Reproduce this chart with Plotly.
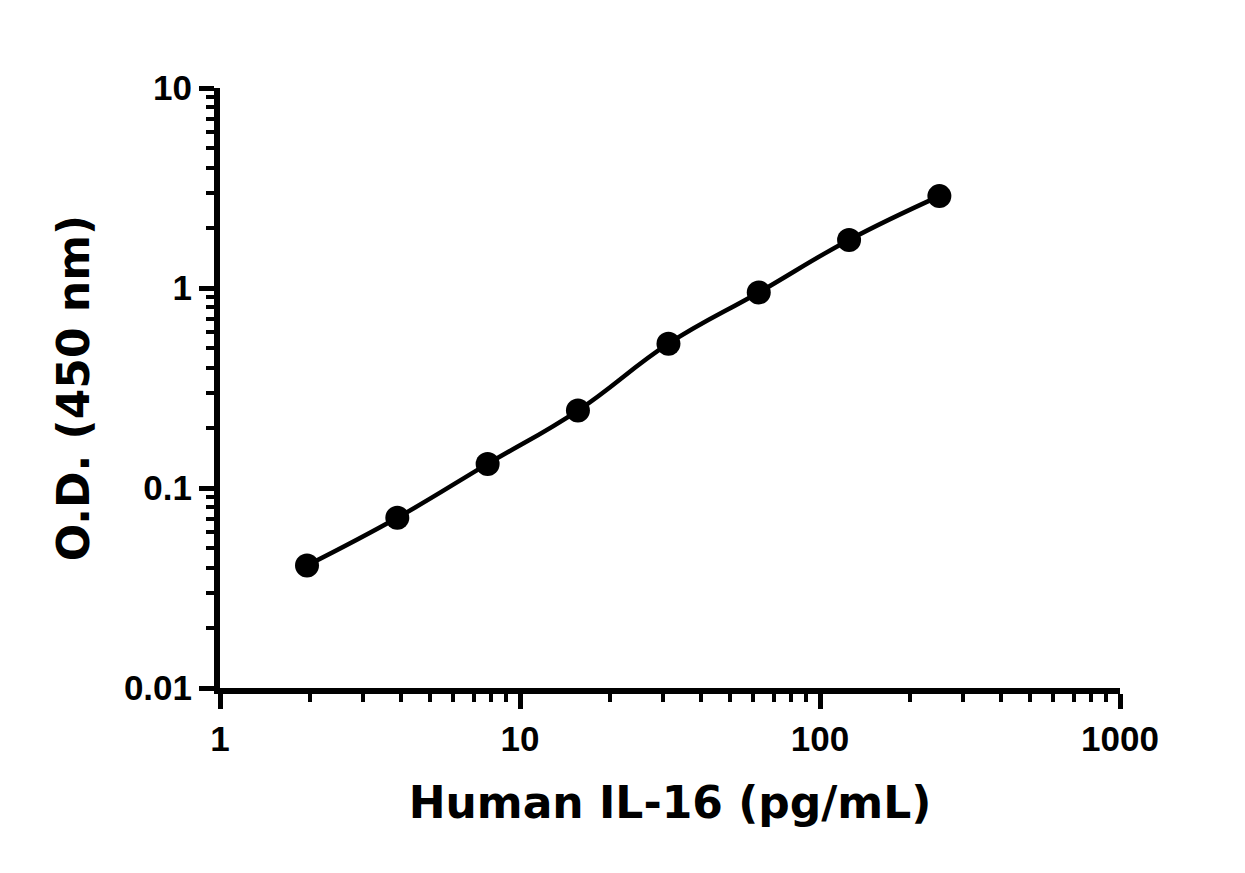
import plotly.graph_objects as go

# IL-16 standard curve
conc_pg_ml = [1.95, 3.9, 7.8, 15.6, 31.25, 62.5, 125, 250]
od_450 = [0.041, 0.071, 0.132, 0.244, 0.527, 0.950, 1.74, 2.88]

x_ticks = [1, 10, 100, 1000]
x_tick_text = ["1", "10", "100", "1000"]
y_ticks = [0.01, 0.1, 1, 10]
y_tick_text = ["0.01", "0.1", "1", "10"]

tick_font = dict(family="Liberation Sans", size=35, color="black", weight="bold")
title_font = dict(family="DejaVu Sans", size=44, color="black", weight="bold")

fig = go.Figure()
fig.add_trace(go.Scatter(
    x=conc_pg_ml, y=od_450,
    mode="lines+markers",
    line=dict(color="black", width=4.5, shape="spline", smoothing=1.2),
    marker=dict(color="black", size=24),
    showlegend=False,
))

axis_common = dict(
    type="log", automargin=False,
    showgrid=False, zeroline=False,
    showline=True, linecolor="black", linewidth=6,
    ticks="outside", ticklen=15, tickwidth=5, tickcolor="black",
    tickfont=tick_font,
    minor=dict(ticks="outside", ticklen=8, tickwidth=4, tickcolor="black", dtick="D1", showgrid=False),
)

# page body adds ~8px offset, so margins are trimmed accordingly
fig.update_layout(
    width=1237, height=865,
    margin=dict(l=212, r=125, t=80, b=185),
    paper_bgcolor="white", plot_bgcolor="white",
    xaxis=dict(axis_common, range=[0, 3], tickvals=x_ticks, ticktext=x_tick_text,
               title=dict(text="Human IL-16 (pg/mL)", font=title_font, standoff=32)),
    yaxis=dict(axis_common, range=[-2, 1], tickvals=y_ticks, ticktext=y_tick_text,
               title=dict(text="O.D. (450 nm)", font=title_font, standoff=22)),
)

fig.write_html("out.html")
